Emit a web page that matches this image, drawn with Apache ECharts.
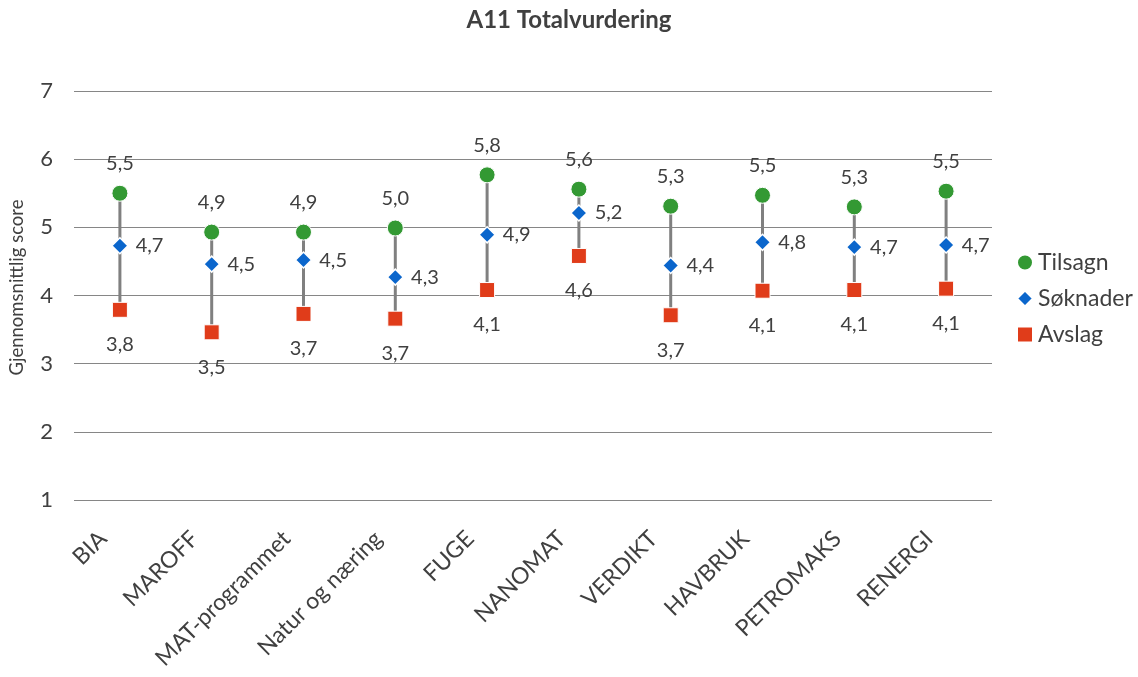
<!DOCTYPE html>
<html>
<head>
<meta charset="utf-8">
<script src="https://cdn.jsdelivr.net/npm/echarts@6/dist/echarts.min.js"></script>
<style>html,body{margin:0;padding:0;background:#fff;}#c{width:1138px;height:677px;}</style>
</head>
<body>
<div id="c"></div>
<script>
var categories = ['BIA','MAROFF','MAT-programmet','Natur og næring','FUGE','NANOMAT','VERDIKT','HAVBRUK','PETROMAKS','RENERGI'];
var tilsagn  = [5.50, 4.93, 4.93, 4.99, 5.77, 5.56, 5.31, 5.47, 5.30, 5.53];
var soknader = [4.73, 4.46, 4.52, 4.27, 4.89, 5.21, 4.44, 4.78, 4.71, 4.74];
var avslag   = [3.79, 3.46, 3.73, 3.66, 4.08, 4.58, 3.71, 4.07, 4.08, 4.10];
var yTicks = [1, 2, 3, 4, 5, 6, 7];

var FONT = 'Lato, "Open Sans", sans-serif';
var TXT = '#404040';
function fmt(p){ var v = Array.isArray(p.value) ? p.value[1] : p.value; return v.toFixed(1).replace('.', ','); }

var hl = categories.map(function(c, i){ return [i, tilsagn[i], avslag[i]]; });

var chart = echarts.init(document.getElementById('c'), null, {renderer: 'canvas'});
chart.setOption({
  backgroundColor: '#fff',
  animation: false,
  title: {
    text: 'A11 Totalvurdering', left: 'center', top: 3,
    textStyle: {fontFamily: FONT, fontSize: 24, fontWeight: 'bold', color: TXT}
  },
  legend: {
    orient: 'vertical', left: 1011, top: 246, itemGap: 13,
    itemWidth: 16, itemHeight: 16,
    textStyle: {fontFamily: FONT, fontSize: 23, color: TXT},
    data: [
      {name: 'Tilsagn', icon: 'circle'},
      {name: 'Søknader', icon: 'diamond'},
      {name: 'Avslag', icon: 'rect'}
    ]
  },
  grid: {left: 74, right: 146, top: 91, bottom: 177},
  xAxis: {
    type: 'category', data: categories, boundaryGap: true,
    axisLine: {show: false}, axisTick: {show: false},
    axisLabel: {rotate: 45, fontFamily: FONT, fontSize: 23, color: TXT, margin: 18,
      padding: [0, 24, 0, 0], interval: 0}
  },
  yAxis: {
    type: 'value', min: 1, max: 7, interval: 1,
    name: 'Gjennomsnittlig score', nameLocation: 'middle', nameGap: 47, nameRotate: 90,
    nameTextStyle: {fontFamily: FONT, fontSize: 18.5, color: TXT, padding: [0, 0, 0, 16]},
    axisLine: {show: false},
    axisTick: {show: false},
    axisLabel: {fontFamily: FONT, fontSize: 22, color: TXT, margin: 21,
      formatter: function(v){ return yTicks.indexOf(v) >= 0 ? String(v) : ''; }},
    splitLine: {lineStyle: {color: '#868686', width: 1}}
  },
  series: [
    {
      type: 'custom', name: 'hl', z: 1, silent: true,
      data: hl,
      renderItem: function(params, api){
        var a = api.coord([api.value(0), api.value(1)]);
        var b = api.coord([api.value(0), api.value(2)]);
        return {type: 'line', shape: {x1: a[0], y1: a[1], x2: b[0], y2: b[1]},
          style: {stroke: '#808080', lineWidth: 3}};
      }
    },
    {
      type: 'scatter', name: 'Tilsagn', data: tilsagn, symbol: 'circle', symbolSize: 16, z: 3,
      itemStyle: {color: '#339933', borderColor: '#fff', borderWidth: 1, opacity: 1},
      label: {show: true, position: 'top', distance: 11, formatter: fmt,
        fontFamily: FONT, fontSize: 20, color: TXT}
    },
    {
      type: 'scatter', name: 'Søknader', data: soknader, symbol: 'diamond', symbolSize: 16, z: 3,
      itemStyle: {color: '#0b66cc', borderColor: '#fff', borderWidth: 1.5, opacity: 1},
      label: {show: true, position: 'right', distance: 7, formatter: fmt,
        fontFamily: FONT, fontSize: 20, color: TXT}
    },
    {
      type: 'scatter', name: 'Avslag', data: avslag, symbol: 'rect', symbolSize: 15, z: 3,
      itemStyle: {color: '#e03c1a', borderColor: '#fff', borderWidth: 1, opacity: 1},
      label: {show: true, position: 'bottom', distance: 17, formatter: fmt,
        fontFamily: FONT, fontSize: 20, color: TXT}
    }
  ]
});
</script>
</body>
</html>
